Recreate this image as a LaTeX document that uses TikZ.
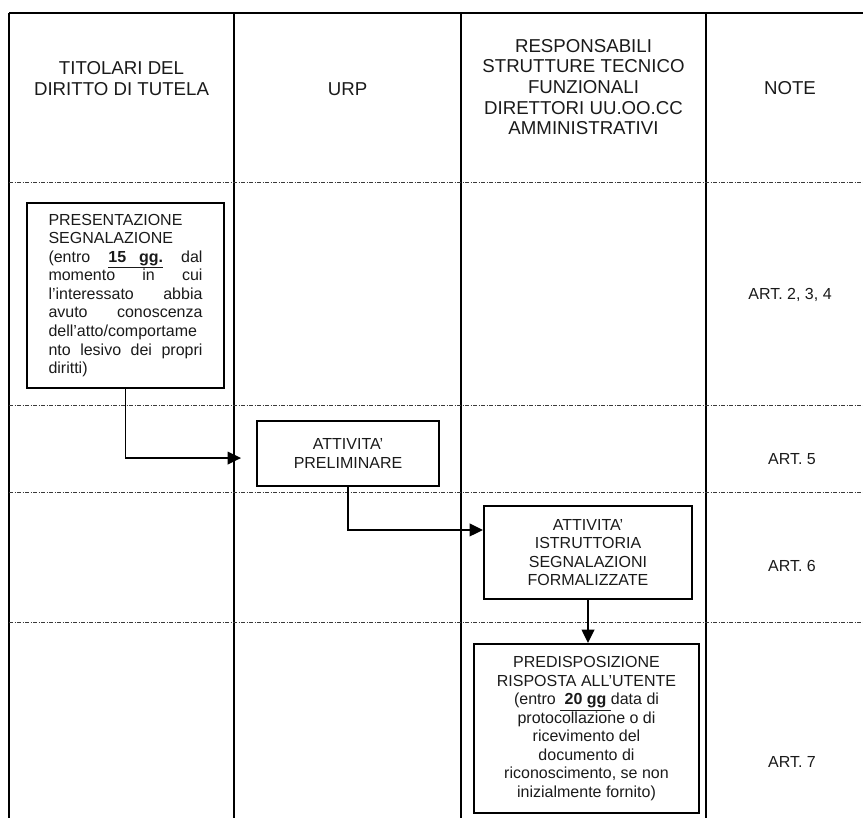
\documentclass[tikz,border=0pt]{standalone}
\usepackage{fontspec}
\setmainfont{Liberation Sans}
\usetikzlibrary{arrows.meta,positioning,calc}
\definecolor{darktext}{HTML}{1A1A1A}
\definecolor{rulegray}{HTML}{3A3A3A}
\newcommand{\jline}[1]{\leavevmode\hbox to 115.5pt{#1}}

\begin{document}
\begin{tikzpicture}[
    x=0.75pt, y=-0.75pt,
    every node/.style={font=\fontsize{12}{13.9}\selectfont, text=darktext},
    headtext/.style={font=\fontsize{14}{15.5}\selectfont, align=center},
    block/.style={rectangle, draw=black, line width=1.5pt, align=center, inner sep=0pt},
    lane/.style={line width=0.9pt, black},
    rowsep/.style={line width=0.6pt, rulegray, dash pattern=on 3pt off 1.2pt on 0.6pt off 1.2pt},
    myarrow/.style={-{Triangle[length=10pt,width=9.5pt]}, line width=1.1pt, black},
]
\useasboundingbox (0,0) rectangle (863,818);

% --- Grid: swimlanes and phase rows ---
\draw[lane] (9,13) -- (863,13);
\foreach \x in {9,234,461,706}
  \draw[lane] (\x,13) -- (\x,818);
\foreach \y in {182,405,492,622}
  \draw[rowsep] (9,\y) -- (863,\y);

% --- Header row ---
\node[headtext] (htit) at (121.5,78.5) {TITOLARI DEL\\DIRITTO DI TUTELA};
\node[headtext] (hurp) at (347.5,89) {URP};
\node[headtext] (hresp) at (583.5,87) {RESPONSABILI\\STRUTTURE TECNICO\\FUNZIONALI\\DIRETTORI UU.OO.CC\\AMMINISTRATIVI};
\node[headtext] (hnote) at (790,88) {NOTE};

% --- Row 1: Presentazione ---
\node[block, align=left, text width=115.5pt, inner xsep=16.1pt, minimum height=138.75pt] (pres) at (125.5,295.5)
  {PRESENTAZIONE\\SEGNALAZIONE\\
   \jline{(entro\hfill\underline{\textbf{15\hspace{0.8em}gg.}}\hfill dal}\\
   \jline{momento\hfill in\hfill cui}\\
   \jline{l'interessato\hfill abbia}\\
   \jline{avuto\hfill conoscenza}\\
   dell'atto/comportame\\
   \jline{nto\hfill lesivo\hfill dei\hfill propri}\\
   diritti)};
\node (art1) at (790,295) {ART. 2, 3, 4};

% --- Row 2: Attivita' preliminare ---
\node[block, minimum width=136.5pt, minimum height=48.75pt] (prel) at (348,453.5) {ATTIVITA'\\PRELIMINARE};
\node (art2) at (792,459) {ART. 5};

% --- Row 3: Istruttoria ---
\node[block, minimum width=156pt, minimum height=69.75pt] (istr) at (588,552.5)
  {ATTIVITA'\\ISTRUTTORIA\\SEGNALAZIONI\\FORMALIZZATE};
\node (art3) at (792,566) {ART. 6};

% --- Row 4: Risposta ---
\node[block, minimum width=168.75pt, minimum height=126.75pt] (pred) at (586.5,728.5)
  {PREDISPOSIZIONE\\RISPOSTA ALL'UTENTE\\(entro \underline{\textbf{\ 20 gg\ }}data di\\protocollazione o di\\ricevimento del\\documento di\\riconoscimento, se non\\inizialmente fornito)};
\node (art4) at (792,762) {ART. 7};

% --- Arrows ---
\draw[myarrow, shorten >=11.25pt] (pres.south) |- ([yshift=-3.4pt]prel.west);
\draw[myarrow] (prel.south) |- ([yshift=16.9pt]istr.west);
\draw[myarrow] (istr.south) -- (istr.south |- pred.north);

\end{tikzpicture}
\end{document}
